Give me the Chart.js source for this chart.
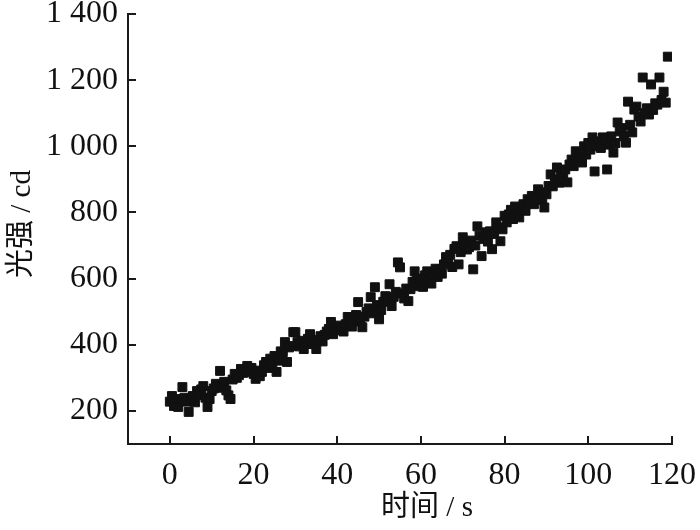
<!DOCTYPE html>
<html>
<head>
<meta charset="utf-8">
<script src="https://cdn.jsdelivr.net/npm/chart.js@4.4.1/dist/chart.umd.min.js"></script>
<style>
  html, body { margin: 0; padding: 0; background: #fff; }
  #wrap { width: 700px; height: 530px; }
</style>
</head>
<body>
<div id="wrap"><canvas id="myChart" width="700" height="530"></canvas></div>
<script>
// time (s)
const times = [
  0, 0.5, 1, 1.5, 2, 2.5, 3, 3.5, 4, 4.5, 5, 5.5, 6, 6.5, 7, 7.5, 8, 8.5, 9, 9.5,
  10, 10.5, 11, 11.5, 12, 12.5, 13, 13.5, 14, 14.5, 15, 15.5, 16, 16.5, 17, 17.5, 18, 18.5, 19, 19.5,
  20, 20.5, 21, 21.5, 22, 22.5, 23, 23.5, 24, 24.5, 25, 25.5, 26, 26.5, 27, 27.5, 28, 28.5, 29, 29.5,
  30, 30.5, 31, 31.5, 32, 32.5, 33, 33.5, 34, 34.5, 35, 35.5, 36, 36.5, 37, 37.5, 38, 38.5, 39, 39.5,
  40, 40.5, 41, 41.5, 42, 42.5, 43, 43.5, 44, 44.5, 45, 45.5, 46, 46.5, 47, 47.5, 48, 48.5, 49, 49.5,
  50, 50.5, 51, 51.5, 52, 52.5, 53, 53.5, 54, 54.5, 55, 55.5, 56, 56.5, 57, 57.5, 58, 58.5, 59, 59.5,
  60, 60.5, 61, 61.5, 62, 62.5, 63, 63.5, 64, 64.5, 65, 65.5, 66, 66.5, 67, 67.5, 68, 68.5, 69, 69.5,
  70, 70.5, 71, 71.5, 72, 72.5, 73, 73.5, 74, 74.5, 75, 75.5, 76, 76.5, 77, 77.5, 78, 78.5, 79, 79.5,
  80, 80.5, 81, 81.5, 82, 82.5, 83, 83.5, 84, 84.5, 85, 85.5, 86, 86.5, 87, 87.5, 88, 88.5, 89, 89.5,
  90, 90.5, 91, 91.5, 92, 92.5, 93, 93.5, 94, 94.5, 95, 95.5, 96, 96.5, 97, 97.5, 98, 98.5, 99, 99.5,
  100, 100.5, 101, 101.5, 102, 102.5, 103, 103.5, 104, 104.5, 105, 105.5, 106, 106.5, 107, 107.5, 108, 108.5, 109, 109.5,
  110, 110.5, 111, 111.5, 112, 112.5, 113, 113.5, 114, 114.5, 115, 115.5, 116, 116.5, 117, 117.5, 118, 118.5, 119
];

// light intensity (cd)
const intensity = [
  228, 245, 215, 232, 212, 236, 272, 240, 228, 197, 232, 245, 226, 260, 248, 265, 275, 240, 212, 236,
  260, 268, 282, 270, 321, 275, 288, 262, 247, 236, 295, 312, 300, 308, 327, 315, 322, 336, 318, 330,
  312, 297, 322, 305, 318, 338, 348, 330, 358, 340, 366, 318, 352, 380, 378, 408, 348, 392, 396, 438,
  438, 408, 395, 412, 387, 402, 418, 432, 410, 402, 387, 415, 426, 410, 430, 440, 448, 469, 432, 452,
  445, 458, 447, 440, 462, 484, 470, 455, 478, 490, 529, 470, 453, 485, 499, 510, 544, 495, 574, 520,
  477, 505, 530, 547, 538, 583, 517, 545, 560, 649, 634, 555, 540, 570, 532, 568, 590, 622, 600, 577,
  598, 575, 610, 622, 595, 585, 613, 630, 605, 628, 615, 643, 665, 650, 672, 635, 690, 698, 643, 680,
  725, 705, 688, 695, 715, 628, 700, 758, 730, 668, 720, 740, 712, 743, 689, 735, 770, 755, 713, 749,
  790, 770, 794, 808, 780, 818, 800, 785, 812, 825, 805, 840, 833, 850, 825, 845, 870, 861, 838, 815,
  855, 880, 915, 879, 900, 936, 890, 920, 905, 930, 891, 945, 960, 940, 985, 955, 970, 951, 1000, 975,
  1010, 990, 1027, 924, 1000, 1015, 995, 1027, 1020, 930, 1005, 1030, 981, 1010, 1072, 1045, 1055, 1030, 1011, 1135,
  1065, 1042, 1111, 1120, 1090, 1075, 1208, 1100, 1115, 1096, 1187, 1110, 1130, 1126, 1208, 1140, 1165, 1132, 1271
];

const xTicks = [0, 20, 40, 60, 80, 100, 120];
const yTicks = [200, 400, 600, 800, 1000, 1200, 1400];

const xTitle = "时间 / s";
const yTitle = "光强 / cd";

const FONT = "'Liberation Serif', 'Times New Roman', 'Noto Sans CJK SC', serif";

const points = times.map((t, i) => ({ x: t, y: intensity[i] }));

// ticks drawn inward plus the axis titles
const innerTicks = {
  id: "innerTicks",
  afterDraw(chart) {
    const c = chart.ctx;
    const xs = chart.scales.x;
    const ys = chart.scales.y;
    const area = chart.chartArea;
    c.save();
    c.strokeStyle = "#1a1a1a";
    c.lineWidth = 2;
    c.beginPath();
    xTicks.forEach((v) => {
      const px = Math.round(xs.getPixelForValue(v));
      c.moveTo(px, area.bottom);
      c.lineTo(px, area.bottom - 8);
    });
    yTicks.forEach((v) => {
      const py = Math.round(ys.getPixelForValue(v));
      c.moveTo(area.left, py);
      c.lineTo(area.left + 8, py);
    });
    c.stroke();

    c.fillStyle = "#111";
    c.font = "29px " + FONT;
    c.textAlign = "center";
    c.textBaseline = "middle";
    c.fillText(xTitle, 427, 508);
    c.translate(22, 224);
    c.rotate(-Math.PI / 2);
    c.fillText(yTitle, 0, 0);
    c.restore();
  },
};

const ctx = document.getElementById("myChart").getContext("2d");

const myChart = new Chart(ctx, {
  type: "scatter",
  data: {
    datasets: [
      {
        data: points,
        pointStyle: "rect",
        pointRadius: 6.3,
        backgroundColor: "#111",
        borderColor: "#111",
        borderWidth: 1,
      },
    ],
  },
  plugins: [innerTicks],
  options: {
    responsive: false,
    animation: false,
    layout: {
      padding: { top: 14, right: 28, left: 0, bottom: 0 },
    },
    scales: {
      x: {
        type: "linear",
        min: -10,
        max: 120,
        afterBuildTicks: (scale) => {
          scale.ticks = xTicks.map((v) => ({ value: v }));
        },
        afterFit: (scale) => {
          scale.height = 86;
          scale.paddingLeft = 0;
          scale.paddingRight = 0;
        },
        border: { color: "#1a1a1a", width: 2 },
        grid: { display: false, drawTicks: false },
        ticks: {
          color: "#111",
          padding: 12,
          maxRotation: 0,
          font: { family: FONT, size: 32 },
        },
      },
      y: {
        min: 100,
        max: 1400,
        afterBuildTicks: (scale) => {
          scale.ticks = yTicks.map((v) => ({ value: v }));
        },
        afterFit: (scale) => {
          scale.width = 128;
          scale.paddingTop = 0;
          scale.paddingBottom = 0;
        },
        border: { color: "#1a1a1a", width: 2 },
        grid: { display: false, drawTicks: false },
        ticks: {
          color: "#111",
          padding: 10,
          font: { family: FONT, size: 32 },
          callback: (value) => {
            const s = String(value);
            return s.length > 3 ? s.slice(0, s.length - 3) + " " + s.slice(-3) : s;
          },
        },
      },
    },
    plugins: {
      legend: { display: false },
      tooltip: { enabled: false },
    },
  },
});
</script>
</body>
</html>
